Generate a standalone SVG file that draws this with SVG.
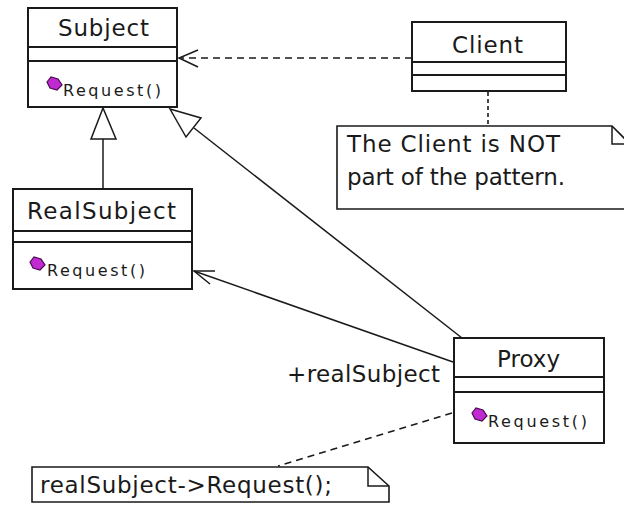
<svg xmlns="http://www.w3.org/2000/svg" xmlns:xlink="http://www.w3.org/1999/xlink" width="624" height="505" viewBox="0 0 624 505">
  <style>
    .box { fill: #ffffff; stroke: #1a1a1a; stroke-width: 2; }
    .div { stroke: #1a1a1a; stroke-width: 2; fill: none; }
    .name { font-family: "DejaVu Sans", "Liberation Sans", sans-serif; font-size: 23px; fill: #1a1a1a; }
    .op { font-family: "DejaVu Sans", "Liberation Sans", sans-serif; font-size: 16px; fill: #1a1a1a; }
    .note { fill: #ffffff; stroke: #1a1a1a; stroke-width: 1.6; }
    .line { stroke: #1a1a1a; stroke-width: 1.5; fill: none; }
    .dash { stroke: #1a1a1a; stroke-width: 1.6; fill: none; stroke-dasharray: 7 5; }
    .dot { stroke: #1a1a1a; stroke-width: 1.6; fill: none; stroke-dasharray: 4 3; }
    .tri { fill: #ffffff; stroke: #1a1a1a; stroke-width: 1.5; }
  </style>
  <defs>
    <!-- public operation marker -->
    <g id="opIcon">
      <polygon points="-7,-2 -3,-7 4,-5 8,1 3,6 -4,4" fill="#c02ad0" stroke="#4a0a50" stroke-width="1.2"/>
    </g>
  </defs>

  <rect width="624" height="505" fill="#ffffff"/>

  <!-- connectors -->
  <g id="connectors">
    <!-- Client depends on Subject -->
    <line class="dash" x1="412" y1="58" x2="180" y2="58"/>
    <polyline class="line" points="198,50 179,58 198,67"/>
    <!-- note anchor for Client -->
    <line class="dot" x1="488" y1="92" x2="488" y2="126"/>
    <!-- RealSubject generalizes Subject -->
    <line class="line" x1="103" y1="139" x2="103" y2="189"/>
    <polygon class="tri" points="103,108 91,139 116,139"/>
    <!-- Proxy generalizes Subject -->
    <line class="line" x1="462" y1="338" x2="194" y2="128"/>
    <polygon class="tri" points="170,109 186,137 201,118"/>
    <!-- association Proxy -> RealSubject -->
    <line class="line" x1="453" y1="362" x2="194" y2="271"/>
    <polyline class="line" points="215,271 194,271 210,284"/>
    <!-- note anchor for Proxy -->
    <line class="dash" x1="452" y1="413" x2="278" y2="466" stroke-dasharray="6 4"/>
    <text class="name" x="287" y="382" textLength="153" lengthAdjust="spacing">+realSubject</text>
  </g>

  <!-- Subject -->
  <g id="subject">
    <rect class="box" x="28" y="8" width="149" height="99"/>
    <line class="div" x1="28" y1="47" x2="177" y2="47"/>
    <line class="div" x1="28" y1="61" x2="177" y2="61"/>
    <text class="name" x="58" y="36" textLength="91" lengthAdjust="spacing">Subject</text>
    <use xlink:href="#opIcon" x="54" y="84"/>
    <text class="op" x="63" y="96" textLength="98" lengthAdjust="spacing">Request()</text>
  </g>

  <!-- Client -->
  <g id="client">
    <rect class="box" x="412" y="22" width="154" height="69"/>
    <line class="div" x1="412" y1="62" x2="566" y2="62"/>
    <line class="div" x1="412" y1="75" x2="566" y2="75"/>
    <text class="name" x="452" y="53" textLength="71" lengthAdjust="spacing">Client</text>
  </g>

  <!-- note on Client -->
  <g id="clientNote">
    <path class="note" d="M337,126 H612 L632,146 V209 H337 Z"/>
    <polyline class="line" points="612,126 612,144 632,144"/>
    <text class="name" x="347" y="152" textLength="213" lengthAdjust="spacing">The Client is NOT</text>
    <text class="name" x="347" y="185" textLength="218" lengthAdjust="spacing">part of the pattern.</text>
  </g>

  <!-- RealSubject -->
  <g id="realSubject">
    <rect class="box" x="13" y="189" width="179" height="100"/>
    <line class="div" x1="13" y1="231" x2="192" y2="231"/>
    <line class="div" x1="13" y1="242" x2="192" y2="242"/>
    <text class="name" x="27" y="219" textLength="149" lengthAdjust="spacing">RealSubject</text>
    <use xlink:href="#opIcon" x="37" y="264"/>
    <text class="op" x="47" y="276" textLength="98" lengthAdjust="spacing">Request()</text>
  </g>

  <!-- Proxy -->
  <g id="proxy">
    <rect class="box" x="454" y="338" width="150" height="105"/>
    <line class="div" x1="454" y1="377" x2="604" y2="377"/>
    <line class="div" x1="454" y1="392" x2="604" y2="392"/>
    <text class="name" x="497" y="367" textLength="63" lengthAdjust="spacing">Proxy</text>
    <use xlink:href="#opIcon" x="479" y="415"/>
    <text class="op" x="488" y="427" textLength="99" lengthAdjust="spacing">Request()</text>
  </g>

  <!-- note on Proxy -->
  <g id="proxyNote">
    <path class="note" d="M32,467 H368 L389,486 V502 H32 Z"/>
    <polyline class="line" points="368,467 368,486 389,486"/>
    <text class="name" x="40" y="493" textLength="292" lengthAdjust="spacing">realSubject-&gt;Request();</text>
  </g>
</svg>
